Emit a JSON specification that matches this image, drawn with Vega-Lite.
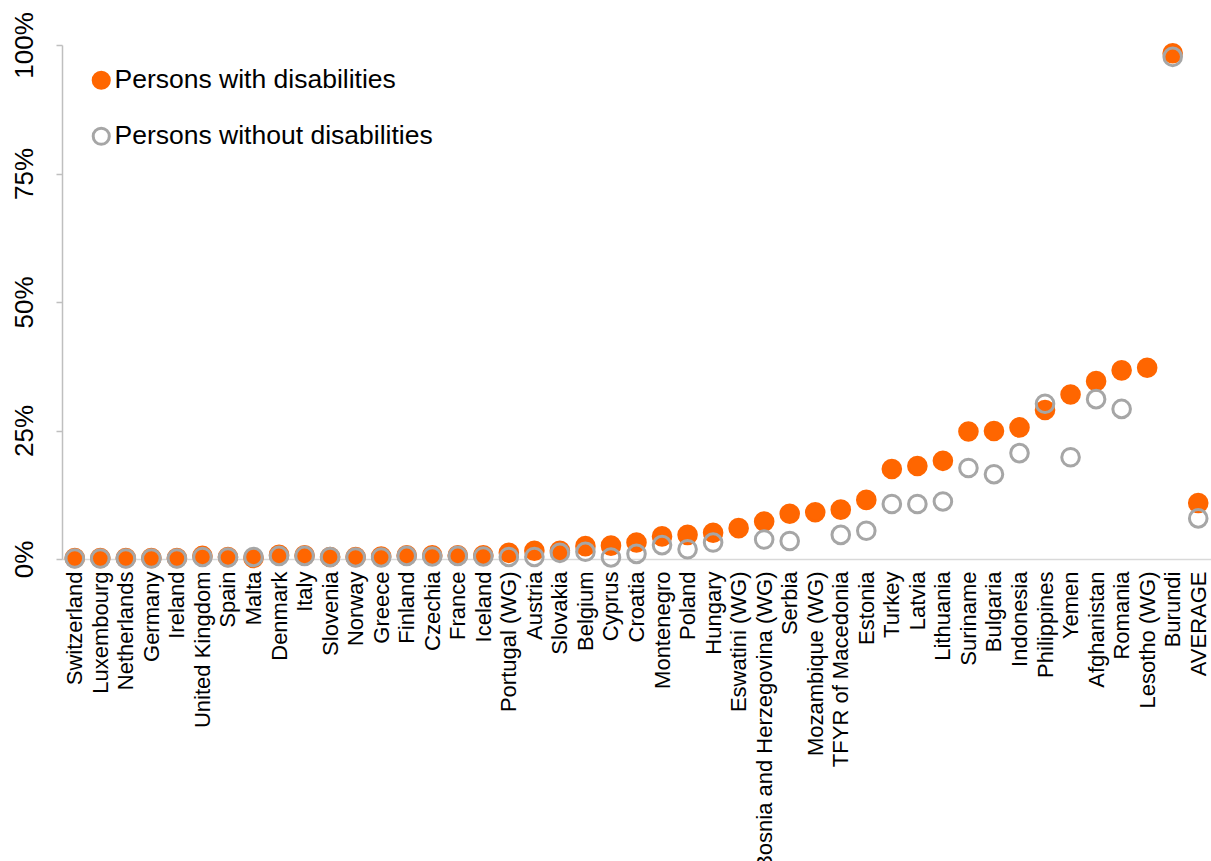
{
  "$schema": "https://vega.github.io/schema/vega-lite/v6.json",
  "autosize": "none",
  "width": 1149,
  "height": 514,
  "padding": {"left": 62, "top": 45, "right": 0, "bottom": 302},
  "background": "white",
  "config": {
    "font": "Liberation Sans",
    "view": {"stroke": null}
  },
  "data": {
    "values": [
      {"country": "Switzerland", "Persons with disabilities": 0.2, "Persons without disabilities": 0.1},
      {"country": "Luxembourg", "Persons with disabilities": 0.2, "Persons without disabilities": 0.1},
      {"country": "Netherlands", "Persons with disabilities": 0.2, "Persons without disabilities": 0.1},
      {"country": "Germany", "Persons with disabilities": 0.2, "Persons without disabilities": 0.1},
      {"country": "Ireland", "Persons with disabilities": 0.2, "Persons without disabilities": 0.1},
      {"country": "United Kingdom", "Persons with disabilities": 0.6, "Persons without disabilities": 0.4},
      {"country": "Spain", "Persons with disabilities": 0.4, "Persons without disabilities": 0.3},
      {"country": "Malta", "Persons with disabilities": 0.2, "Persons without disabilities": 0.4},
      {"country": "Denmark", "Persons with disabilities": 0.8, "Persons without disabilities": 0.6},
      {"country": "Italy", "Persons with disabilities": 0.7, "Persons without disabilities": 0.6},
      {"country": "Slovenia", "Persons with disabilities": 0.4, "Persons without disabilities": 0.4},
      {"country": "Norway", "Persons with disabilities": 0.4, "Persons without disabilities": 0.3},
      {"country": "Greece", "Persons with disabilities": 0.5, "Persons without disabilities": 0.3},
      {"country": "Finland", "Persons with disabilities": 0.7, "Persons without disabilities": 0.6},
      {"country": "Czechia", "Persons with disabilities": 0.7, "Persons without disabilities": 0.5},
      {"country": "France", "Persons with disabilities": 0.7, "Persons without disabilities": 0.6},
      {"country": "Iceland", "Persons with disabilities": 0.7, "Persons without disabilities": 0.5},
      {"country": "Portugal (WG)", "Persons with disabilities": 1.2, "Persons without disabilities": 0.4},
      {"country": "Austria", "Persons with disabilities": 1.6, "Persons without disabilities": 0.4},
      {"country": "Slovakia", "Persons with disabilities": 1.6, "Persons without disabilities": 1.2},
      {"country": "Belgium", "Persons with disabilities": 2.5, "Persons without disabilities": 1.4},
      {"country": "Cyprus", "Persons with disabilities": 2.6, "Persons without disabilities": 0.3},
      {"country": "Croatia", "Persons with disabilities": 3.2, "Persons without disabilities": 1.0},
      {"country": "Montenegro", "Persons with disabilities": 4.4, "Persons without disabilities": 2.7},
      {"country": "Poland", "Persons with disabilities": 4.7, "Persons without disabilities": 1.9},
      {"country": "Hungary", "Persons with disabilities": 5.1, "Persons without disabilities": 3.2},
      {"country": "Eswatini (WG)", "Persons with disabilities": 6.0, "Persons without disabilities": null},
      {"country": "Bosnia and Herzegovina (WG)", "Persons with disabilities": 7.3, "Persons without disabilities": 3.8},
      {"country": "Serbia", "Persons with disabilities": 8.8, "Persons without disabilities": 3.5},
      {"country": "Mozambique (WG)", "Persons with disabilities": 9.1, "Persons without disabilities": null},
      {"country": "TFYR of Macedonia", "Persons with disabilities": 9.6, "Persons without disabilities": 4.7},
      {"country": "Estonia", "Persons with disabilities": 11.5, "Persons without disabilities": 5.5},
      {"country": "Turkey", "Persons with disabilities": 17.5, "Persons without disabilities": 10.7},
      {"country": "Latvia", "Persons with disabilities": 18.1, "Persons without disabilities": 10.7},
      {"country": "Lithuania", "Persons with disabilities": 19.1, "Persons without disabilities": 11.2},
      {"country": "Suriname", "Persons with disabilities": 24.8, "Persons without disabilities": 17.7},
      {"country": "Bulgaria", "Persons with disabilities": 24.9, "Persons without disabilities": 16.5},
      {"country": "Indonesia", "Persons with disabilities": 25.6, "Persons without disabilities": 20.6},
      {"country": "Philippines", "Persons with disabilities": 29.0, "Persons without disabilities": 30.2},
      {"country": "Yemen", "Persons with disabilities": 32.0, "Persons without disabilities": 19.8},
      {"country": "Afghanistan", "Persons with disabilities": 34.6, "Persons without disabilities": 31.1},
      {"country": "Romania", "Persons with disabilities": 36.7, "Persons without disabilities": 29.2},
      {"country": "Lesotho (WG)", "Persons with disabilities": 37.2, "Persons without disabilities": null},
      {"country": "Burundi", "Persons with disabilities": 98.4, "Persons without disabilities": 97.7},
      {"country": "AVERAGE", "Persons with disabilities": 10.9, "Persons without disabilities": 7.9}
    ]
  },
  "transform": [
    {"fold": ["Persons with disabilities", "Persons without disabilities"], "as": ["series", "value"]},
    {"filter": "datum.value != null"}
  ],
  "mark": {"type": "point", "filled": false, "strokeWidth": 3, "size": 310, "opacity": 1},
  "encoding": {
    "x": {
      "field": "country",
      "type": "nominal",
      "sort": null,
      "title": null,
      "scale": {"paddingInner": 0, "paddingOuter": 0},
      "axis": {
        "labelAngle": -90,
        "labelAlign": "right",
        "labelBaseline": "middle",
        "labelFontSize": 22,
        "labelColor": "#000000",
        "labelPadding": 12,
        "ticks": false,
        "domainColor": "#D9D9D9",
        "domainWidth": 1.5,
        "labelOverlap": false,
        "labelLimit": 0
      }
    },
    "y": {
      "field": "value",
      "type": "quantitative",
      "title": null,
      "scale": {"domain": [0, 100], "nice": false, "zero": true},
      "axis": {
        "values": [0, 25, 50, 75, 100],
        "labelExpr": "datum.value + '%'",
        "labelAngle": -90,
        "labelAlign": "center",
        "labelBaseline": "bottom",
        "labelFontSize": 26,
        "labelColor": "#000000",
        "labelPadding": 19,
        "tickSize": 6,
        "tickColor": "#BFBFBF",
        "tickWidth": 1.5,
        "domainColor": "#BFBFBF",
        "domainWidth": 1.5,
        "grid": false
      }
    },
    "stroke": {
      "field": "series",
      "type": "nominal",
      "scale": {"domain": ["Persons with disabilities", "Persons without disabilities"], "range": ["#FF6600", "#A6A6A6"]},
      "legend": {
        "title": null,
        "orient": "none",
        "legendX": 26,
        "legendY": 22,
        "padding": 0,
        "labelFontSize": 26.5,
        "labelColor": "#000000",
        "labelOffset": 0,
        "rowPadding": 27,
        "symbolSize": 260,
        "symbolStrokeWidth": 3,
        "labelLimit": 0
      }
    },
    "fill": {
      "field": "series",
      "type": "nominal",
      "scale": {"domain": ["Persons with disabilities", "Persons without disabilities"], "range": ["#FF6600", "transparent"]},
      "legend": {
        "title": null,
        "orient": "none",
        "legendX": 26,
        "legendY": 22,
        "padding": 0,
        "labelFontSize": 26.5,
        "labelColor": "#000000",
        "labelOffset": 0,
        "rowPadding": 27,
        "symbolSize": 260,
        "symbolStrokeWidth": 3,
        "labelLimit": 0
      }
    }
  }
}
